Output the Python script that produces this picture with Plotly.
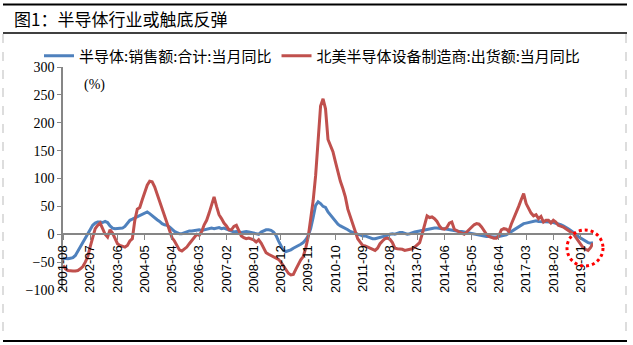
import pandas as pd
import plotly.graph_objects as go

months = list(pd.period_range("2001-08", "2019-06", freq="M").strftime("%Y-%m"))

tick_labels = ["2001-08", "2002-07", "2003-06", "2004-05", "2005-04", "2006-03", "2007-02",
               "2008-01", "2008-12", "2009-11", "2010-10", "2011-09", "2012-08", "2013-07",
               "2014-06", "2015-05", "2016-04", "2017-03", "2018-02", "2019-01"]

name_sales = "半导体:销售额:合计:当月同比"
name_equip = "北美半导体设备制造商:出货额:当月同比"

# 半导体:销售额:合计:当月同比 (%)
sales_yoy = [
    -43, -44, -44, -43, -42, -38, -30, -22, -15, -7, 2, 10,        # 2001-08 .. 2002-07
    16, 20, 22, 22, 21, 23, 21, 15, 11, 10, 10, 10,                 # 2002-08 .. 2003-07
    11, 14, 20, 25, 27, 29, 31, 33, 36, 38, 40, 37,                 # 2003-08 .. 2004-07
    33, 29, 26, 23, 19, 17, 16, 13, 8, 5, 3, 1,                     # 2004-08 .. 2005-07
    1, 3, 5, 6, 6, 7, 8, 8, 7, 8, 10, 11,                           # 2005-08 .. 2006-07
    11, 10, 11, 12, 10, 11, 9, 7, 5, 4, 5, 4,                       # 2006-08 .. 2007-07
    3, 4, 5, 4, 3, 3, 1, 0, 4, 6, 8, 8,                             # 2007-08 .. 2008-07
    7, 4, -2, -12, -22, -29, -31, -30, -28, -25, -23, -21,          # 2008-08 .. 2009-07
    -18, -15, -10, -3, 10, 30, 52, 58, 55, 50, 48, 40,              # 2009-08 .. 2010-07
    34, 28, 22, 18, 15, 13, 11, 8, 5, 3, 1, 0,                      # 2010-08 .. 2011-07
    -1, -3, -3, -5, -6, -8, -8, -7, -6, -5, -3, -2,                 # 2011-08 .. 2012-07
    0, 1, 0, 2, 3, 3, 1, 0, 1, 3, 4, 5,                             # 2012-08 .. 2013-07
    6, 7, 7, 8, 9, 10, 11, 11, 10, 10, 10, 9,                       # 2013-08 .. 2014-07
    8, 7, 7, 6, 5, 5, 4, 3, 2, 1, 0, -1,                            # 2014-08 .. 2015-07
    -2, -3, -3, -4, -4, -5, -5, -5, -4, -4, -3, -1,                 # 2015-08 .. 2016-07
    2, 5, 8, 11, 14, 17, 19, 20, 21, 22, 23, 24,                    # 2016-08 .. 2017-07
    23, 23, 22, 22, 22, 22, 21, 20, 19, 17, 15, 13,                 # 2017-08 .. 2018-07
    10, 7, 4, 0, -4, -7, -10, -13, -15, -16, -15,                   # 2018-08 .. 2019-06
]

# 北美半导体设备制造商:出货额:当月同比 (%)
equip_yoy = [
    -56, -62, -65, -66, -66, -66, -65, -62, -58, -50, -40, -22,     # 2001-08 .. 2002-07
    -5, 10, 16, 20, 10, 0, -5, 8, 2, -8, -17, -20,                  # 2002-08 .. 2003-07
    -21, -23, -20, -12, -8, 25, 45, 48, 62, 75, 88, 95,             # 2003-08 .. 2004-07
    94, 85, 72, 60, 45, 30, 18, 5, -6, -12, -20, -28,               # 2004-08 .. 2005-07
    -30, -27, -23, -17, -12, -6, 0, -2, 5, 17, 25, 38,              # 2005-08 .. 2006-07
    55, 67, 50, 35, 28, 20, 15, 8, 8, 14, 16, 5,                    # 2006-08 .. 2007-07
    -3, -6, -8, -7, -8, -10, -14, -10, -16, -25, -33, -36,          # 2007-08 .. 2008-07
    -38, -40, -42, -45, -50, -57, -64, -70, -73, -72, -63, -53,     # 2008-08 .. 2009-07
    -46, -40, -25, -5, 25, 60, 105, 170, 230, 243, 225, 170,        # 2009-08 .. 2010-07
    160, 148, 130, 112, 95, 82, 67, 45, 31, 19, 6, -8,              # 2010-08 .. 2011-07
    -14, -20, -21, -23, -25, -28, -29, -25, -17, -12, -8, -7,       # 2011-08 .. 2012-07
    -9, -15, -25, -26, -26, -27, -29, -28, -27, -26, -23, -19,      # 2012-08 .. 2013-07
    -15, 0, 15, 33, 30, 31, 28, 23, 15, 10, 9, 12,                  # 2013-08 .. 2014-07
    20, 22, 9, 6, 4, 2, 0, 4, 9, 13, 17, 19,                        # 2014-08 .. 2015-07
    18, 13, 6, 0, -4, -6, -7, -7, -3, 8, 10, 9,                     # 2015-08 .. 2016-07
    5, 18, 28, 40, 50, 62, 73, 55, 45, 38, 33, 35,                  # 2016-08 .. 2017-07
    28, 32, 22, 25, 25, 20, 25, 22, 16, 15, 13, 10,                 # 2017-08 .. 2018-07
    7, 3, 1, -5, -12, -18, -24, -27, -29, -24, -16,                 # 2018-08 .. 2019-06
]

W, H = 633, 345
L, R, T, B = 63, 40, 67, 55
PW, PH = W - L - R, H - T - B


def px(x):
    return (x - L) / PW


def py(y):
    return (H - B - y) / PH


fig = go.Figure()
fig.add_trace(go.Scatter(x=months, y=sales_yoy, mode="lines", name=name_sales,
                         line=dict(color="#4F81BD", width=3)))
fig.add_trace(go.Scatter(x=months, y=equip_yoy, mode="lines", name=name_equip,
                         line=dict(color="#C0504D", width=3)))

frame = dict(xref="paper", yref="paper")
shapes = [
    dict(type="line", x0=px(3), x1=px(627), y0=py(4.5), y1=py(4.5), line=dict(color="black", width=2), **frame),
    dict(type="line", x0=px(3), x1=px(627), y0=py(33), y1=py(33), line=dict(color="black", width=1.5), **frame),
    dict(type="line", x0=px(3), x1=px(627), y0=py(341), y1=py(341), line=dict(color="black", width=2), **frame),
    dict(type="line", x0=px(3), x1=px(3), y0=py(34), y1=py(340), line=dict(color="#BBBBBB", width=1, dash="dash"), **frame),
    dict(type="line", x0=px(626), x1=px(626), y0=py(34), y1=py(340), line=dict(color="#BBBBBB", width=1, dash="dash"), **frame),
    dict(type="circle", x0=px(567), x1=px(603), y0=py(266), y1=py(230), line=dict(color="red", width=3, dash="dot"), **frame),
]

fig.update_layout(
    width=W, height=H,
    margin=dict(l=L, r=R, t=T, b=B),
    paper_bgcolor="white", plot_bgcolor="white",
    font=dict(family="Noto Sans CJK SC", color="black"),
    showlegend=True,
    legend=dict(orientation="h", x=px(39), xanchor="left", y=py(56), yanchor="middle",
                font=dict(size=15, family="Noto Sans CJK SC"), bgcolor="rgba(0,0,0,0)",
                itemwidth=30, tracegroupgap=0),
    xaxis=dict(type="category", range=[0, len(months) - 1], tickmode="array",
               tickvals=tick_labels, ticktext=tick_labels, tickangle=-90,
               tickfont=dict(family="Liberation Sans", size=13, color="black"),
               showline=True, linecolor="#868686", linewidth=1.5,
               ticks="outside", ticklen=5, tickcolor="#868686",
               anchor="free", position=0.25, showgrid=False, zeroline=False),
    yaxis=dict(range=[-100, 300], tickmode="array", tickvals=[-100, -50, 0, 50, 100, 150, 200, 250, 300],
               tickfont=dict(family="Liberation Serif", size=14, color="black"),
               showline=True, linecolor="#868686", linewidth=1.5,
               ticks="outside", ticklen=4, tickcolor="#868686",
               showgrid=False, zeroline=False),
    shapes=shapes,
    annotations=[
        dict(text="图1：半导体行业或触底反弹", x=px(12), y=py(18.5), xref="paper", yref="paper",
             xanchor="left", yanchor="middle", showarrow=False,
             font=dict(size=17, family="Noto Sans CJK SC", color="black")),
        dict(text="(%)", x=px(82), y=py(85), xref="paper", yref="paper",
             xanchor="left", yanchor="middle", showarrow=False,
             font=dict(size=14, family="Liberation Serif", color="black")),
    ],
)

fig.write_html("out.html")
